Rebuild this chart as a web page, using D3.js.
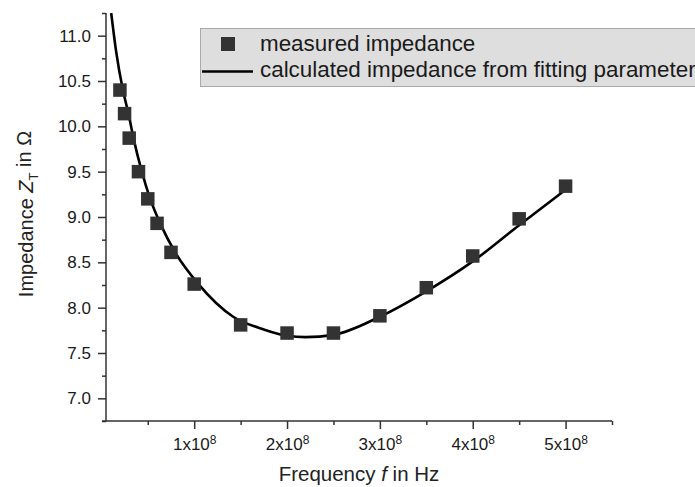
<!DOCTYPE html>
<html>
<head>
<meta charset="utf-8">
<script src="https://cdn.jsdelivr.net/npm/d3@7"></script>
<style>
  body { margin: 0; background: #fff; }
  svg { display: block; font-family: "Liberation Sans", Arial, sans-serif; }
</style>
</head>
<body>
<div id="chart"></div>
<script>
// measured points (frequency in Hz, impedance in Ohm)
const freqMeasured = [2e7, 2.5e7, 3e7, 4e7, 5e7, 6e7, 7.5e7, 1e8, 1.5e8, 2e8, 2.5e8, 3e8, 3.5e8, 4e8, 4.5e8, 5e8]
const zMeasured = [10.40, 10.14, 9.87, 9.50, 9.20, 8.93, 8.61, 8.26, 7.81, 7.72, 7.72, 7.91, 8.22, 8.57, 8.98, 9.34]

// fitted curve
const freqFit = [1.06e7, 1.6e7, 2.32e7, 2.92e7, 3.46e7, 4.36e7, 5.26e7, 6.34e7, 7.95e7, 1.046e8, 1.42e8, 1.75e8, 2.0e8, 2.2e8, 2.5e8, 3.0e8, 3.5e8, 4.0e8, 4.5e8, 5.0e8]
const zFit = [11.25, 10.82, 10.40, 10.14, 9.87, 9.50, 9.20, 8.93, 8.61, 8.26, 7.90, 7.76, 7.69, 7.675, 7.70, 7.90, 8.18, 8.51, 8.91, 9.30]

// ticks
const xMajorTicks = [1e8, 2e8, 3e8, 4e8, 5e8]
const xMajorLabels = ["1", "2", "3", "4", "5"]
const xMinorTicks = [0.5e8, 1.5e8, 2.5e8, 3.5e8, 4.5e8, 5.5e8]
const yMajorTicks = [7.0, 7.5, 8.0, 8.5, 9.0, 9.5, 10.0, 10.5, 11.0]
const yMinorTicks = [6.75, 7.25, 7.75, 8.25, 8.75, 9.25, 9.75, 10.25, 10.75, 11.25]

const legendLabels = ["measured impedance", "calculated impedance from fitting parameters"]

// dimensions
width = 695
height = 487
plot = ({left: 106, right: 612, top: 13, bottom: 421})
font = "'Liberation Sans', Arial, sans-serif"

x = d3.scaleLinear().domain([0.05e8, 5.5e8]).range([plot.left, plot.right])
y = d3.scaleLinear().domain([6.75, 11.25]).range([plot.bottom, plot.top])

const svg = d3.select("#chart").append("svg")
    .attr("width", width)
    .attr("height", height)

svg.append("clipPath").attr("id", "clip")
    .append("rect")
    .attr("x", plot.left).attr("y", plot.top)
    .attr("width", plot.right - plot.left).attr("height", plot.bottom - plot.top)

const axisColor = "#333"

// minor ticks first, then the majors with labels
svg.append("g")
    .attr("transform", `translate(0,${plot.bottom})`)
    .call(d3.axisBottom(x).tickValues(xMinorTicks).tickSize(4).tickSizeOuter(0).tickFormat(""))
    .call(g => g.select(".domain").remove())
    .call(g => g.selectAll("line").attr("stroke", axisColor).attr("stroke-width", 1.5))

svg.append("g")
    .attr("transform", `translate(${plot.left},0)`)
    .call(d3.axisLeft(y).tickValues(yMinorTicks).tickSize(4).tickSizeOuter(0).tickFormat(""))
    .call(g => g.select(".domain").remove())
    .call(g => g.selectAll("line").attr("stroke", axisColor).attr("stroke-width", 1.5))

const xAxis = svg.append("g")
    .attr("transform", `translate(0,${plot.bottom})`)
    .call(d3.axisBottom(x).tickValues(xMajorTicks).tickSize(8).tickSizeOuter(0).tickPadding(9).tickFormat(""))
    .attr("font-family", font)
    .attr("font-size", 17)
    .call(g => g.select(".domain").attr("stroke", axisColor).attr("stroke-width", 1.5)
        .attr("d", `M${plot.left - 4},0H${plot.right}`))
    .call(g => g.selectAll("line").attr("stroke", axisColor).attr("stroke-width", 1.5))

// labels like 1x10^8 with a real superscript
xAxis.selectAll(".tick text")
    .attr("fill", "#1a1a1a")
    .each(function(d, i) {
        const t = d3.select(this)
        t.append("tspan").text(xMajorLabels[i] + "x10")
        t.append("tspan").text("8").attr("dy", "-0.5em").attr("font-size", 12)
    })

svg.append("g")
    .attr("transform", `translate(${plot.left},0)`)
    .call(d3.axisLeft(y).tickValues(yMajorTicks).tickSize(8).tickSizeOuter(0).tickPadding(7).tickFormat(d3.format(".1f")))
    .attr("font-family", font)
    .attr("font-size", 17)
    .call(g => g.select(".domain").attr("stroke", axisColor).attr("stroke-width", 1.5)
        .attr("d", `M0,${plot.bottom + 0.5}V${plot.top}`))
    .call(g => g.selectAll("line").attr("stroke", axisColor).attr("stroke-width", 1.5))
    .call(g => g.selectAll("text").attr("fill", "#1a1a1a"))

// fitted line
const line = d3.line()
    .x((d, i) => x(freqFit[i]))
    .y(d => y(d))
    .curve(d3.curveMonotoneX)

svg.append("path")
    .attr("clip-path", "url(#clip)")
    .attr("d", line(zFit))
    .attr("fill", "none")
    .attr("stroke", "#000")
    .attr("stroke-width", 2.6)

// measured squares
const sq = 13.5
svg.append("g")
    .selectAll("rect")
    .data(zMeasured)
    .join("rect")
    .attr("x", (d, i) => x(freqMeasured[i]) - sq / 2)
    .attr("y", d => y(d) - sq / 2)
    .attr("width", sq)
    .attr("height", sq)
    .attr("fill", "#333")

// legend (runs off the right edge like the original)
const legend = svg.append("g")
legend.append("rect")
    .attr("x", 200.5).attr("y", 28.5)
    .attr("width", 520).attr("height", 58)
    .attr("fill", "#dedede")
    .attr("stroke", "#aaa")
legend.append("rect")
    .attr("x", 221).attr("y", 37)
    .attr("width", 14).attr("height", 14)
    .attr("fill", "#333")
legend.append("line")
    .attr("x1", 202).attr("x2", 253)
    .attr("y1", 71.5).attr("y2", 71.5)
    .attr("stroke", "#000")
    .attr("stroke-width", 2.6)
legend.selectAll("text.leg")
    .data(legendLabels)
    .join("text")
    .attr("class", "leg")
    .attr("x", 260)
    .attr("y", (d, i) => 51 + i * 26)
    .attr("fill", "#1a1a1a")
    .style("font-size", "22.4px")
    .text(d => d)

// axis titles
const xTitle = svg.append("text")
    .attr("x", (plot.left + plot.right) / 2)
    .attr("y", 481)
    .attr("text-anchor", "middle")
    .attr("fill", "#222")
    .style("font-size", "20.5px")
xTitle.append("tspan").text("Frequency ")
xTitle.append("tspan").text("f").style("font-style", "italic")
xTitle.append("tspan").text(" in Hz")

const yTitle = svg.append("text")
    .attr("transform", `translate(33,214) rotate(-90)`)
    .attr("text-anchor", "middle")
    .attr("fill", "#222")
    .style("font-size", "20px")
yTitle.append("tspan").text("Impedance ")
yTitle.append("tspan").text("Z").style("font-style", "italic")
yTitle.append("tspan").text("T").attr("dy", "0.35em").style("font-size", "13px")
yTitle.append("tspan").text(" in \u03A9").attr("dy", "-0.35em")
</script>
</body>
</html>
